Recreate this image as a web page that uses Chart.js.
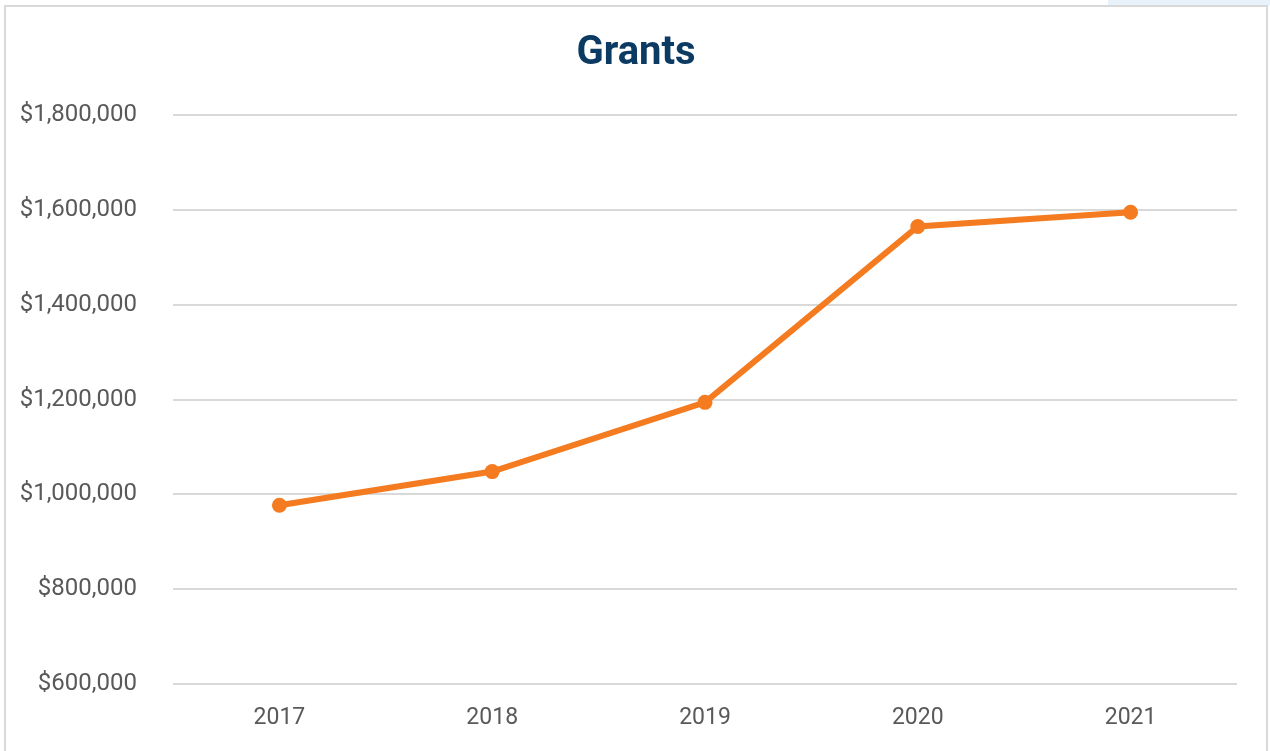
<!DOCTYPE html>
<html>
<head>
<meta charset="utf-8">
<script src="https://cdn.jsdelivr.net/npm/chart.js@4"></script>
<style>
    html, body { margin: 0; padding: 0; background: #ffffff; overflow: hidden; }
    .corner { position: absolute; left: 1108px; top: 0; width: 162px; height: 6px; background: #e8f2fb; }
    .frame {
        position: absolute; left: 4px; top: 5px;
        width: 1260px; height: 760px;
        border: 2px solid #d9d9d9; background: #ffffff;
    }
    canvas { display: block; }
</style>
</head>
<body>
<div class="corner"></div>
<div class="frame">
    <canvas id="grantsChart" width="1260" height="760"></canvas>
</div>
<script>
// chart data
const years = ['2017', '2018', '2019', '2020', '2021'];
const grants = [977000, 1048000, 1194000, 1565000, 1595000];
const yTicks = [600000, 800000, 1000000, 1200000, 1400000, 1600000, 1800000];

const orange = '#f47b20';
const labelGrey = '#595959';

// stretch the title box over the full canvas so it is centred on the frame
const fullWidthTitle = {
    id: 'fullWidthTitle',
    afterLayout(chart) {
        const t = chart.titleBlock;
        if (t) {
            t.left = 0;
            t.right = chart.width;
            t.width = chart.width;
        }
    }
};

document.addEventListener("DOMContentLoaded", () => {
    const ctx = document.getElementById('grantsChart').getContext('2d');

    new Chart(ctx, {
        type: 'line',
        data: {
            labels: years,
            datasets: [{
                label: 'Grants',
                data: grants,
                borderColor: orange,
                backgroundColor: orange,
                borderWidth: 6,
                pointRadius: 7.5,
                pointBackgroundColor: orange,
                pointBorderWidth: 0,
                tension: 0
            }]
        },
        plugins: [fullWidthTitle],
        options: {
            responsive: false,
            animation: false,
            layout: { padding: { top: 0, right: 29, bottom: 0, left: 0 } },
            plugins: {
                legend: { display: false },
                tooltip: { enabled: false },
                title: {
                    display: true,
                    text: 'Grants',
                    color: '#0b3a62',
                    font: { family: 'Roboto', size: 40, weight: 'bold', lineHeight: 1.2 },
                    padding: { top: 23, bottom: 37 }
                }
            },
            scales: {
                x: {
                    offset: true,
                    grid: { display: false, drawTicks: false },
                    border: { display: false },
                    ticks: {
                        color: labelGrey,
                        padding: 20,
                        font: { family: 'Roboto', size: 23 }
                    },
                    afterFit: (scale) => { scale.height = 83; }
                },
                y: {
                    min: yTicks[0],
                    max: yTicks[yTicks.length - 1],
                    afterBuildTicks: (scale) => {
                        scale.ticks = yTicks.map(v => ({ value: v }));
                    },
                    grid: { color: '#d9d9d9', lineWidth: 2, drawTicks: false },
                    border: { display: false },
                    ticks: {
                        color: labelGrey,
                        padding: 36,
                        font: { family: 'Roboto', size: 24 },
                        callback: (value) => '$' + value.toLocaleString('en-US')
                    },
                    afterFit: (scale) => { scale.width = 167; }
                }
            }
        }
    });
});
</script>
</body>
</html>
